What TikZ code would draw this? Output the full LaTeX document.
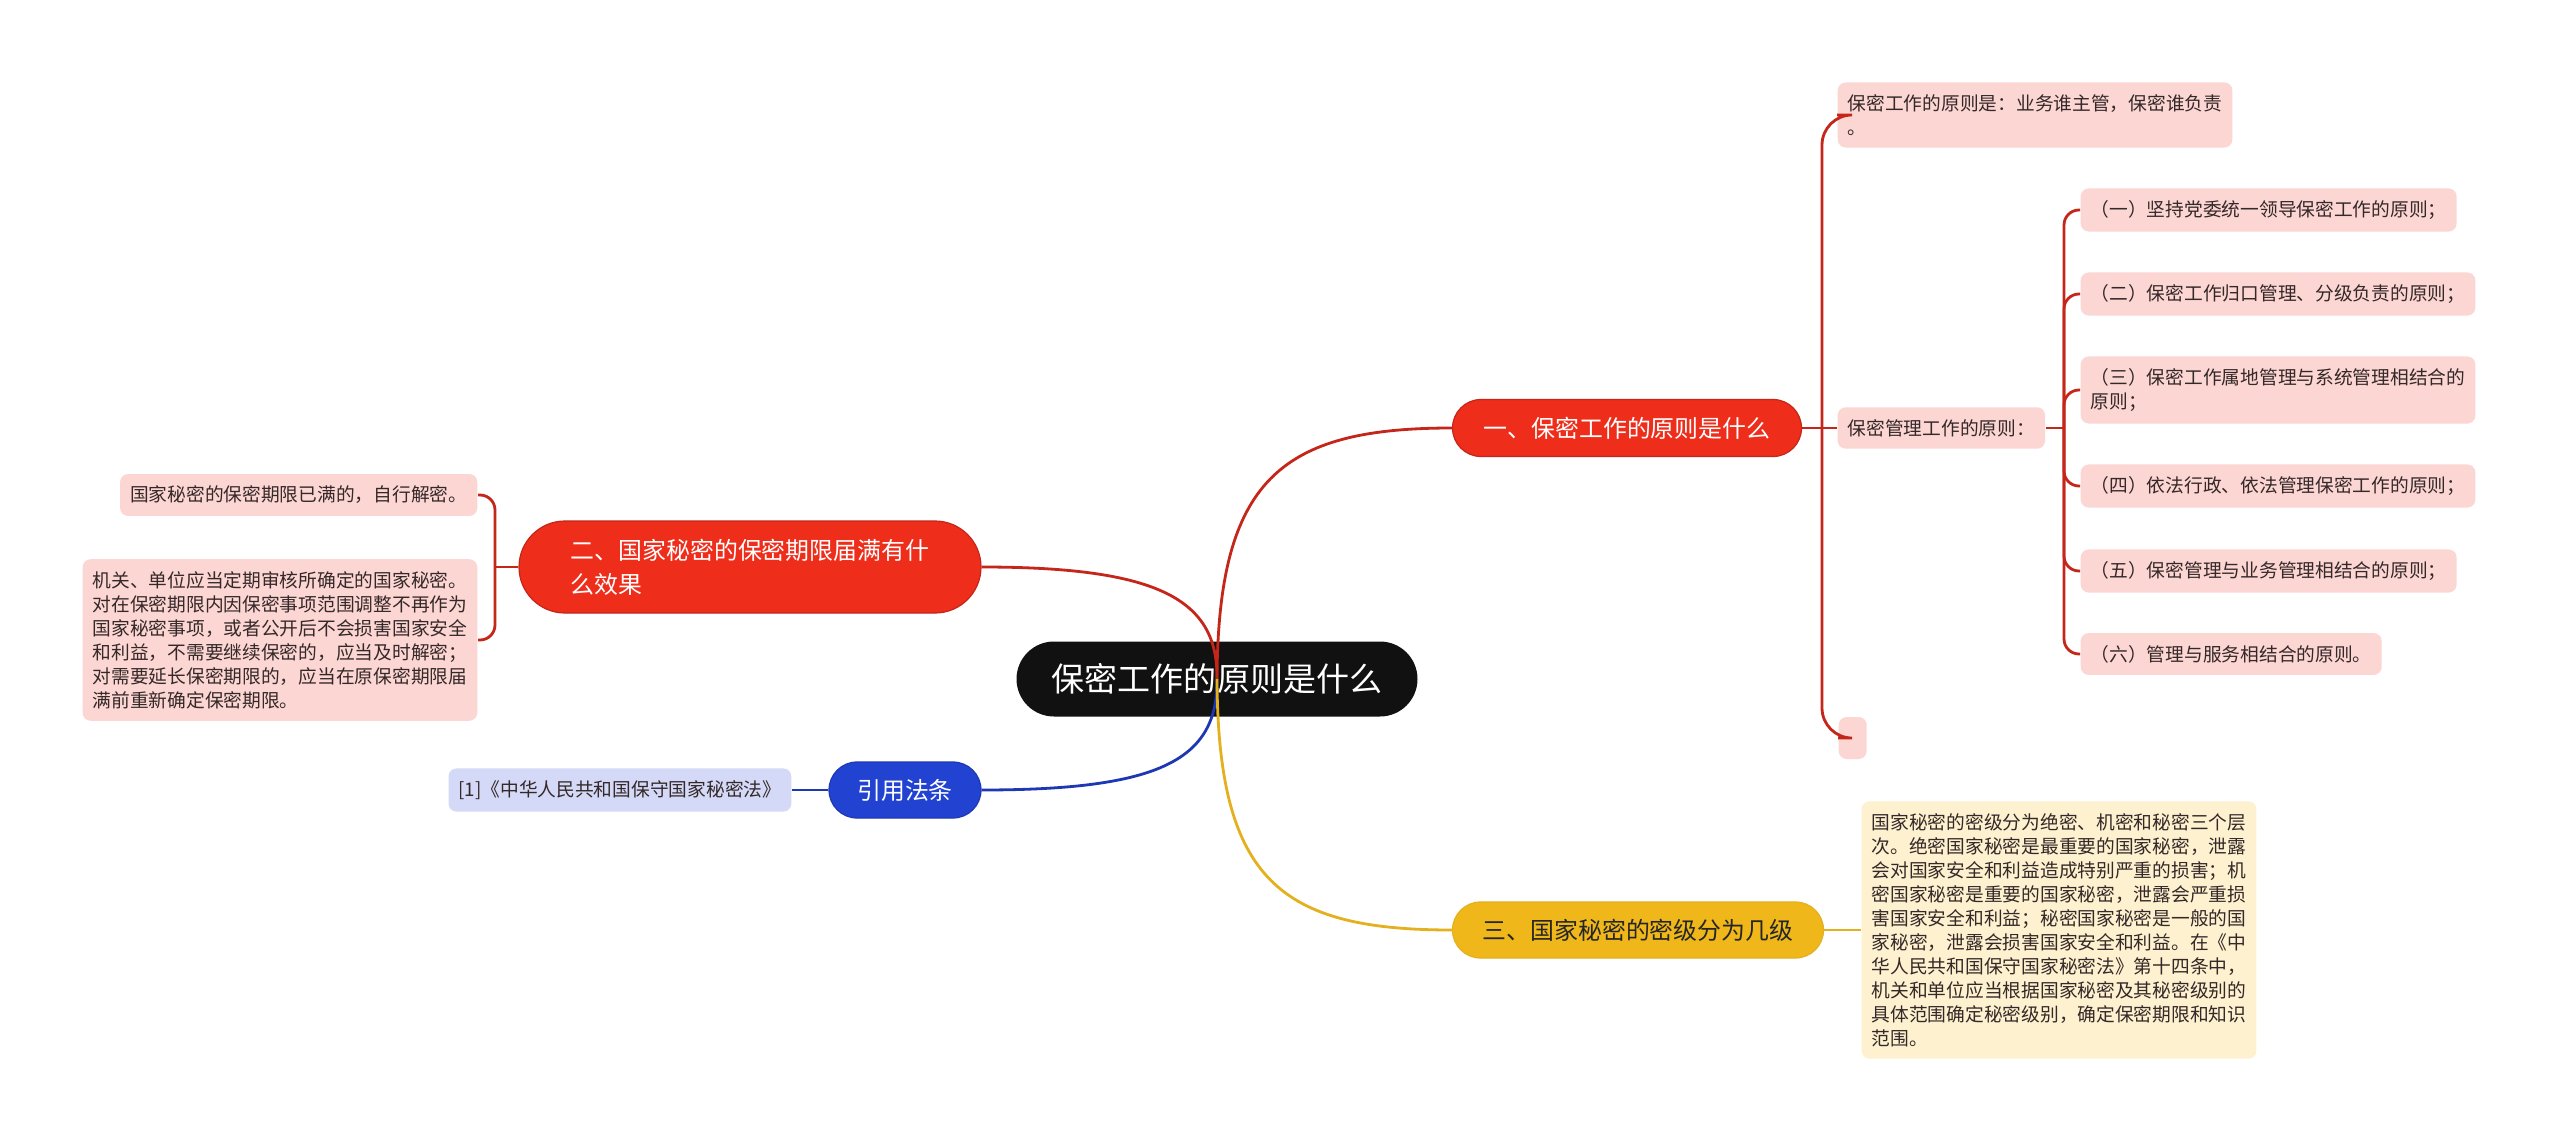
\documentclass[tikz,border=0pt]{standalone}
\usepackage{fontspec}
\usepackage{xcolor}
\usetikzlibrary{shapes.misc}
\newfontfamily\cjk{Noto Sans CJK SC}
\newcommand\rootfont{\cjk\fontsize{9.4pt}{11pt}\selectfont}
\newcommand\branchfont{\cjk\fontsize{6.8pt}{9.7pt}\selectfont}
\newcommand\leaffont{\cjk\fontsize{5.33pt}{6.83pt}\selectfont}
\definecolor{mapdark}{RGB}{17,17,17}
\definecolor{mapred}{RGB}{238,45,27}
\definecolor{mapredline}{RGB}{196,38,26}
\definecolor{mappink}{RGB}{252,214,211}
\definecolor{mapblue}{RGB}{34,66,210}
\definecolor{mapblueline}{RGB}{30,56,180}
\definecolor{mapbluelight}{RGB}{211,217,246}
\definecolor{mapyellow}{RGB}{239,183,26}
\definecolor{mapyellowline}{RGB}{228,176,30}
\definecolor{mapyellowlight}{RGB}{253,241,207}
\definecolor{leaftext}{RGB}{52,40,40}
\tikzset{
  rootbox/.style={rounded rectangle, fill=mapdark, text=white, minimum width=40.1mm, minimum height=7.5mm, inner sep=0pt, font=\rootfont},
  redbranch/.style={rounded rectangle, draw=mapredline, line width=0.12mm, fill=mapred, text=white, minimum height=5.7mm, inner sep=0pt, align=left, font=\branchfont},
  bluebranch/.style={rounded rectangle, draw=mapblueline, line width=0.12mm, fill=mapblue, text=white, minimum height=5.6mm, inner sep=0pt, font=\branchfont},
  yellowbranch/.style={rounded rectangle, draw=mapyellowline, line width=0.12mm, fill=mapyellow, text=black!85, minimum height=5.6mm, inner sep=0pt, font=\branchfont},
  pinkleaf/.style={rounded corners=0.8mm, fill=mappink, text=leaftext, inner xsep=1mm, inner ysep=1.2mm, align=left, font=\leaffont},
  blueleaf/.style={pinkleaf, fill=mapbluelight},
  yellowleaf/.style={pinkleaf, fill=mapyellowlight},
  redlink/.style={draw=mapredline, line width=0.28mm},
  bluelink/.style={draw=mapblueline, line width=0.28mm},
  yellowlink/.style={draw=mapyellowline, line width=0.28mm}
}
\begin{document}
\begin{tikzpicture}[x=0.1mm,y=-0.1mm]
  \fill[white] (0,0) rectangle (2560,1145);
  \useasboundingbox (0,0) rectangle (2560,1145);

  \node[rootbox] (root) at (1217,679) {保密工作的原则是什么};

  % branches
  \node[redbranch, minimum width=34.9mm] (secA) at (1627,428) {一、保密工作的原则是什么};
  \node[redbranch, minimum width=46.2mm, minimum height=9.2mm] (secB) at (750,567) {二、国家秘密的保密期限届满有什\\么效果};
  \node[bluebranch, minimum width=15.2mm] (cite) at (905,790) {引用法条};
  \node[yellowbranch, minimum width=37.1mm] (secC) at (1638,930) {三、国家秘密的密级分为几级};

  % right side, first branch
  \node[pinkleaf, anchor=west] (rule) at (1837,115) {保密工作的原则是：业务谁主管，保密谁负责\\。};
  \node[pinkleaf, anchor=west] (mgmt) at (1837,428) {保密管理工作的原则：};
  \node[pinkleaf, anchor=west, minimum width=2.8mm, minimum height=4.2mm] (blank) at (1838,738) {};

  \node[pinkleaf, anchor=west] (p1) at (2080,210) {（一）坚持党委统一领导保密工作的原则；};
  \node[pinkleaf, anchor=west] (p2) at (2080,294) {（二）保密工作归口管理、分级负责的原则；};
  \node[pinkleaf, anchor=west] (p3) at (2080,390) {（三）保密工作属地管理与系统管理相结合的\\原则；};
  \node[pinkleaf, anchor=west] (p4) at (2080,486) {（四）依法行政、依法管理保密工作的原则；};
  \node[pinkleaf, anchor=west] (p5) at (2080,571) {（五）保密管理与业务管理相结合的原则；};
  \node[pinkleaf, anchor=west] (p6) at (2080,654) {（六）管理与服务相结合的原则。};

  % left side
  \node[pinkleaf, anchor=east] (expire) at (478,495) {国家秘密的保密期限已满的，自行解密。};
  \node[pinkleaf, anchor=east] (review) at (478,640) {机关、单位应当定期审核所确定的国家秘密。\\对在保密期限内因保密事项范围调整不再作为\\国家秘密事项，或者公开后不会损害国家安全\\和利益，不需要继续保密的，应当及时解密；\\对需要延长保密期限的，应当在原保密期限届\\满前重新确定保密期限。};
  \node[blueleaf, anchor=east] (law) at (792,790) {[1]《中华人民共和国保守国家秘密法》};

  % lower right
  \node[yellowleaf, anchor=west] (grade) at (1861,930) {国家秘密的密级分为绝密、机密和秘密三个层\\次。绝密国家秘密是最重要的国家秘密，泄露\\会对国家安全和利益造成特别严重的损害；机\\密国家秘密是重要的国家秘密，泄露会严重损\\害国家安全和利益；秘密国家秘密是一般的国\\家秘密，泄露会损害国家安全和利益。在《中\\华人民共和国保守国家秘密法》第十四条中，\\机关和单位应当根据国家秘密及其秘密级别的\\具体范围确定秘密级别，确定保密期限和知识\\范围。};

  \coordinate (forkA) at (1822,428);
  \coordinate (forkM) at (2064,428);
  \coordinate (forkB) at (495,567);

  % main curves
  \draw[redlink] (root.center) .. controls (1218,480) and (1280,428) .. (secA.west);
  \draw[redlink] (root.center) .. controls (1218,600) and (1160,567) .. (secB.east);
  \draw[bluelink] (root.center) .. controls (1218,760) and (1160,790) .. (cite.east);
  \draw[yellowlink] (root.center) .. controls (1218,880) and (1280,930) .. (secC.west);

  \draw[redlink] (secA.east) -- (forkA);
  \draw[redlink, rounded corners=3mm] (forkA) |- (rule.west);
  \draw[redlink] (forkA) -- (mgmt.west);
  \draw[redlink, rounded corners=3mm] (forkA) |- (blank.west);

  \draw[redlink] (mgmt.east) -- (forkM);
  \foreach \i in {1,...,6}
    \draw[redlink, rounded corners=1.5mm] (forkM) |- (p\i.west);

  \draw[redlink] (secB.west) -- (forkB);
  \draw[redlink, rounded corners=1.5mm] (forkB) |- (expire.east);
  \draw[redlink, rounded corners=1.5mm] (forkB) |- (review.east);

  \draw[bluelink] (cite.west) -- (law.east);
  \draw[yellowlink] (secC.east) -- (grade.west);
\end{tikzpicture}
\end{document}
